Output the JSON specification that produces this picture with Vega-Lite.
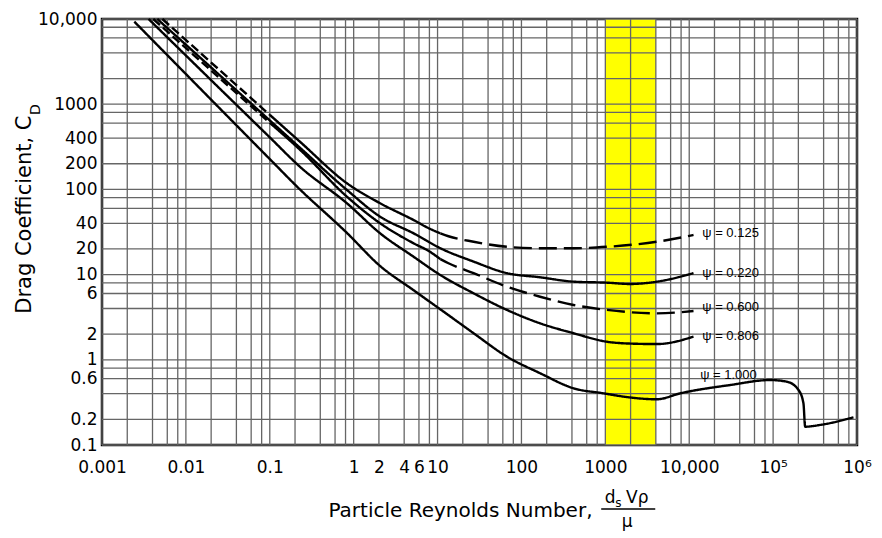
{
  "$schema": "https://vega.github.io/schema/vega-lite/v6.json",
  "width": 755,
  "height": 426,
  "autosize": {"type": "none"},
  "padding": {"left": 102, "top": 19, "right": 25, "bottom": 93},
  "background": "white",
  "config": {"view": {"stroke": "black", "strokeWidth": 2.5}, "font": "DejaVu Sans"},
  "datasets": {
    "band": [{"re": 1000, "re2": 4000}],
    "gridx": [{"re":0.001},{"re":0.002},{"re":0.004},{"re":0.006},{"re":0.008},{"re":0.01},{"re":0.02},{"re":0.04},{"re":0.06},{"re":0.08},{"re":0.1},{"re":0.2},{"re":0.4},{"re":0.6},{"re":0.8},{"re":1},{"re":2},{"re":4},{"re":6},{"re":8},{"re":10},{"re":20},{"re":40},{"re":60},{"re":80},{"re":100},{"re":200},{"re":400},{"re":600},{"re":800},{"re":1000},{"re":2000},{"re":4000},{"re":6000},{"re":8000},{"re":10000},{"re":20000},{"re":40000},{"re":60000},{"re":80000},{"re":100000},{"re":200000},{"re":400000},{"re":600000},{"re":800000},{"re":1000000}],
    "gridy": [{"cd":0.1},{"cd":0.2},{"cd":0.4},{"cd":0.6},{"cd":0.8},{"cd":1},{"cd":2},{"cd":4},{"cd":6},{"cd":8},{"cd":10},{"cd":20},{"cd":40},{"cd":60},{"cd":80},{"cd":100},{"cd":200},{"cd":400},{"cd":600},{"cd":800},{"cd":1000},{"cd":2000},{"cd":4000},{"cd":6000},{"cd":8000},{"cd":10000}],
    "curves": [
      {"psi":"0.125","seg":"0.125 a","re":0.00524,"cd":10000},
      {"psi":"0.125","seg":"0.125 a","re":0.1,"cd":750},
      {"psi":"0.125","seg":"0.125 b","re":0.1,"cd":750},
      {"psi":"0.125","seg":"0.125 b","re":0.231,"cd":360},
      {"psi":"0.125","seg":"0.125 b","re":0.832,"cd":118},
      {"psi":"0.125","seg":"0.125 b","re":2.07,"cd":68.7},
      {"psi":"0.125","seg":"0.125 b","re":5.18,"cd":43.7},
      {"psi":"0.125","seg":"0.125 b","re":8,"cd":34.7},
      {"psi":"0.125","seg":"0.125 b","re":10.8,"cd":30.5},
      {"psi":"0.125","seg":"0.125 c","re":10.8,"cd":30.5},
      {"psi":"0.125","seg":"0.125 c","re":13.5,"cd":28.2},
      {"psi":"0.125","seg":"0.125 c","re":26.9,"cd":24.3},
      {"psi":"0.125","seg":"0.125 c","re":67.1,"cd":21.2},
      {"psi":"0.125","seg":"0.125 c","re":167,"cd":20.4},
      {"psi":"0.125","seg":"0.125 c","re":418,"cd":20.4},
      {"psi":"0.125","seg":"0.125 c","re":1045,"cd":21.2},
      {"psi":"0.125","seg":"0.125 c","re":4120,"cd":24.3},
      {"psi":"0.125","seg":"0.125 c","re":11250,"cd":29.2},
      {"psi":"0.220","seg":"0.220","re":0.00456,"cd":10000},
      {"psi":"0.220","seg":"0.220","re":0.1,"cd":645},
      {"psi":"0.220","seg":"0.220","re":0.231,"cd":306},
      {"psi":"0.220","seg":"0.220","re":0.832,"cd":98.4},
      {"psi":"0.220","seg":"0.220","re":2.07,"cd":47.8},
      {"psi":"0.220","seg":"0.220","re":5.18,"cd":30.5},
      {"psi":"0.220","seg":"0.220","re":10.8,"cd":20.4},
      {"psi":"0.220","seg":"0.220","re":26.9,"cd":14.2},
      {"psi":"0.220","seg":"0.220","re":67.1,"cd":10.4},
      {"psi":"0.220","seg":"0.220","re":167,"cd":9.3},
      {"psi":"0.220","seg":"0.220","re":418,"cd":8.26},
      {"psi":"0.220","seg":"0.220","re":1045,"cd":8.04},
      {"psi":"0.220","seg":"0.220","re":1980,"cd":7.76},
      {"psi":"0.220","seg":"0.220","re":4120,"cd":8.26},
      {"psi":"0.220","seg":"0.220","re":11250,"cd":10.4},
      {"psi":"0.600","seg":"0.600 a","re":0.00408,"cd":10000},
      {"psi":"0.600","seg":"0.600 a","re":0.1,"cd":605},
      {"psi":"0.600","seg":"0.600 b","re":0.1,"cd":605},
      {"psi":"0.600","seg":"0.600 b","re":0.231,"cd":290},
      {"psi":"0.600","seg":"0.600 b","re":0.832,"cd":82.1},
      {"psi":"0.600","seg":"0.600 b","re":2.07,"cd":40},
      {"psi":"0.600","seg":"0.600 b","re":5.18,"cd":23.3},
      {"psi":"0.600","seg":"0.600 b","re":8,"cd":18.7},
      {"psi":"0.600","seg":"0.600 b","re":10.8,"cd":15.2},
      {"psi":"0.600","seg":"0.600 c","re":10.8,"cd":15.2},
      {"psi":"0.600","seg":"0.600 c","re":13.5,"cd":13.6},
      {"psi":"0.600","seg":"0.600 c","re":26.9,"cd":10.4},
      {"psi":"0.600","seg":"0.600 c","re":67.1,"cd":7.21},
      {"psi":"0.600","seg":"0.600 c","re":167,"cd":5.5},
      {"psi":"0.600","seg":"0.600 c","re":418,"cd":4.4},
      {"psi":"0.600","seg":"0.600 c","re":1045,"cd":3.85},
      {"psi":"0.600","seg":"0.600 c","re":4120,"cd":3.51},
      {"psi":"0.600","seg":"0.600 c","re":11250,"cd":3.74},
      {"psi":"0.806","seg":"0.806","re":0.00359,"cd":10000},
      {"psi":"0.806","seg":"0.806","re":0.1,"cd":408},
      {"psi":"0.806","seg":"0.806","re":0.231,"cd":183},
      {"psi":"0.806","seg":"0.806","re":0.832,"cd":68.7},
      {"psi":"0.806","seg":"0.806","re":2.07,"cd":30.5},
      {"psi":"0.806","seg":"0.806","re":5.18,"cd":16.2},
      {"psi":"0.806","seg":"0.806","re":10.8,"cd":9.89},
      {"psi":"0.806","seg":"0.806","re":26.9,"cd":6.03},
      {"psi":"0.806","seg":"0.806","re":67.1,"cd":3.85},
      {"psi":"0.806","seg":"0.806","re":167,"cd":2.68},
      {"psi":"0.806","seg":"0.806","re":418,"cd":2.05},
      {"psi":"0.806","seg":"0.806","re":1045,"cd":1.63},
      {"psi":"0.806","seg":"0.806","re":1980,"cd":1.55},
      {"psi":"0.806","seg":"0.806","re":4120,"cd":1.53},
      {"psi":"0.806","seg":"0.806","re":11250,"cd":1.87},
      {"psi":"1.000","seg":"1.000","re":0.00243,"cd":9300},
      {"psi":"1.000","seg":"1.000","re":0.1,"cd":227},
      {"psi":"1.000","seg":"1.000","re":0.211,"cd":108},
      {"psi":"1.000","seg":"1.000","re":0.832,"cd":30.8},
      {"psi":"1.000","seg":"1.000","re":2.07,"cd":12.6},
      {"psi":"1.000","seg":"1.000","re":5.13,"cd":6.6},
      {"psi":"1.000","seg":"1.000","re":12.9,"cd":3.45},
      {"psi":"1.000","seg":"1.000","re":26.9,"cd":2.05},
      {"psi":"1.000","seg":"1.000","re":67.1,"cd":1.09},
      {"psi":"1.000","seg":"1.000","re":167,"cd":0.695},
      {"psi":"1.000","seg":"1.000","re":418,"cd":0.463},
      {"psi":"1.000","seg":"1.000","re":952,"cd":0.404},
      {"psi":"1.000","seg":"1.000","re":1980,"cd":0.361},
      {"psi":"1.000","seg":"1.000","re":4120,"cd":0.344},
      {"psi":"1.000","seg":"1.000","re":7810,"cd":0.404},
      {"psi":"1.000","seg":"1.000","re":30800,"cd":0.506},
      {"psi":"1.000","seg":"1.000","re":92300,"cd":0.579},
      {"psi":"1.000","seg":"1.000","re":146000,"cd":0.553},
      {"psi":"1.000","seg":"1.000","re":201000,"cd":0.442},
      {"psi":"1.000","seg":"1.000","re":230000,"cd":0.308},
      {"psi":"1.000","seg":"1.000","re":241000,"cd":0.164},
      {"psi":"1.000","seg":"1.000","re":364000,"cd":0.172},
      {"psi":"1.000","seg":"1.000","re":908000,"cd":0.211}
    ],
    "labels": [
      {"label":"ψ = 0.125","re":14300,"cd":30.6},
      {"label":"ψ = 0.220","re":14300,"cd":10.5},
      {"label":"ψ = 0.600","re":14300,"cd":4.17},
      {"label":"ψ = 0.806","re":14300,"cd":1.9},
      {"label":"ψ = 1.000","re":13500,"cd":0.664}
    ],
    "subD": [{"label":"D","re":0.0001625,"cd":746}],
    "fracMain": [
      {"label":"d","re":1143,"cd":0.02388},
      {"label":"Vρ","re":2399,"cd":0.02388},
      {"label":"μ","re":1824,"cd":0.01247}
    ],
    "fracSub": [{"label":"s","re":1426,"cd":0.02084}],
    "fracBar": [{"re":893,"re2":3936,"cd":0.01774}]
  },
  "layer": [
    {
      "data": {"name": "band"},
      "mark": {"type": "rect", "color": "#FFFF00"},
      "encoding": {
        "x": {"field": "re", "type": "quantitative", "scale": {"type": "log", "domain": [0.001, 1000000], "nice": false}},
        "x2": {"field": "re2"}
      }
    },
    {
      "data": {"name": "gridx"},
      "mark": {"type": "rule", "color": "#666666", "strokeWidth": 1.3},
      "encoding": {
        "x": {"field": "re", "type": "quantitative", "scale": {"type": "log", "domain": [0.001, 1000000], "nice": false}}
      }
    },
    {
      "data": {"name": "gridy"},
      "mark": {"type": "rule", "color": "#666666", "strokeWidth": 1.3},
      "encoding": {
        "y": {"field": "cd", "type": "quantitative", "scale": {"type": "log", "domain": [0.1, 10000], "nice": false}}
      }
    },
    {
      "data": {"name": "curves"},
      "mark": {"type": "line", "color": "black", "strokeWidth": 2.4, "interpolate": "monotone"},
      "encoding": {
        "x": {
          "field": "re", "type": "quantitative",
          "scale": {"type": "log", "domain": [0.001, 1000000], "nice": false},
          "axis": {
            "values": [0.001, 0.01, 0.1, 1, 2, 4, 6, 10, 100, 1000, 10000, 100000, 1000000],
            "labelExpr": "datum.value >= 1000000 ? '10⁶' : datum.value >= 100000 ? '10⁵' : datum.value >= 10000 ? '10,000' : toString(datum.value)",
            "grid": false, "ticks": false, "tickSize": 0, "domain": false,
            "labelFont": "DejaVu Sans", "labelFontSize": 17, "labelColor": "black",
            "labelPadding": 14, "labelFlush": false, "labelOverlap": false,
            "title": "Particle Reynolds Number,",
            "titleFont": "DejaVu Sans", "titleFontSize": 20, "titleFontWeight": "normal", "titleColor": "black",
            "titleAlign": "right", "titleBaseline": "middle", "titleAngle": 0,
            "titleX": 490, "titleY": 65
          }
        },
        "y": {
          "field": "cd", "type": "quantitative",
          "scale": {"type": "log", "domain": [0.1, 10000], "nice": false},
          "axis": {
            "values": [0.1, 0.2, 0.6, 1, 2, 6, 10, 20, 40, 100, 200, 400, 1000, 10000],
            "labelExpr": "datum.value >= 10000 ? '10,000' : toString(datum.value)",
            "grid": false, "ticks": false, "tickSize": 0, "domain": false,
            "labelFont": "DejaVu Sans", "labelFontSize": 17, "labelColor": "black",
            "labelPadding": 5, "labelOverlap": false, "labelFlush": false,
            "title": "Drag Coefficient, C",
            "titleFont": "DejaVu Sans", "titleFontSize": 21, "titleFontWeight": "normal", "titleColor": "black",
            "titleAngle": 270, "titleAlign": "right", "titleBaseline": "middle",
            "titleX": -78, "titleY": 96
          }
        },
        "detail": {"field": "seg"},
        "strokeDash": {
          "field": "seg", "type": "nominal",
          "scale": {
            "domain": ["0.125 a", "0.125 b", "0.125 c", "0.220", "0.600 a", "0.600 b", "0.600 c", "0.806", "1.000"],
            "range": [[9, 4], [1, 0], [18, 7], [1, 0], [9, 4], [1, 0], [18, 7], [1, 0], [1, 0]]
          },
          "legend": null
        }
      }
    },
    {
      "data": {"name": "labels"},
      "mark": {"type": "text", "font": "Liberation Sans", "fontSize": 13, "align": "left", "baseline": "middle", "color": "black"},
      "encoding": {
        "x": {"field": "re", "type": "quantitative", "scale": {"type": "log", "domain": [0.001, 1000000], "nice": false}},
        "y": {"field": "cd", "type": "quantitative", "scale": {"type": "log", "domain": [0.1, 10000], "nice": false}},
        "text": {"field": "label"}
      }
    },
    {
      "data": {"name": "subD"},
      "mark": {"type": "text", "font": "DejaVu Sans", "fontSize": 14, "angle": 270, "align": "left", "baseline": "middle", "color": "black"},
      "encoding": {
        "x": {"field": "re", "type": "quantitative", "scale": {"type": "log", "domain": [0.001, 1000000], "nice": false}},
        "y": {"field": "cd", "type": "quantitative", "scale": {"type": "log", "domain": [0.1, 10000], "nice": false}},
        "text": {"field": "label"}
      }
    },
    {
      "data": {"name": "fracMain"},
      "mark": {"type": "text", "font": "DejaVu Sans", "fontSize": 17, "align": "center", "baseline": "middle", "color": "black"},
      "encoding": {
        "x": {"field": "re", "type": "quantitative", "scale": {"type": "log", "domain": [0.001, 1000000], "nice": false}},
        "y": {"field": "cd", "type": "quantitative", "scale": {"type": "log", "domain": [0.1, 10000], "nice": false}},
        "text": {"field": "label"}
      }
    },
    {
      "data": {"name": "fracSub"},
      "mark": {"type": "text", "font": "DejaVu Sans", "fontSize": 12, "align": "center", "baseline": "middle", "color": "black"},
      "encoding": {
        "x": {"field": "re", "type": "quantitative", "scale": {"type": "log", "domain": [0.001, 1000000], "nice": false}},
        "y": {"field": "cd", "type": "quantitative", "scale": {"type": "log", "domain": [0.1, 10000], "nice": false}},
        "text": {"field": "label"}
      }
    },
    {
      "data": {"name": "fracBar"},
      "mark": {"type": "rule", "color": "black", "strokeWidth": 1.5},
      "encoding": {
        "x": {"field": "re", "type": "quantitative", "scale": {"type": "log", "domain": [0.001, 1000000], "nice": false}},
        "x2": {"field": "re2"},
        "y": {"field": "cd", "type": "quantitative", "scale": {"type": "log", "domain": [0.1, 10000], "nice": false}}
      }
    }
  ]
}
